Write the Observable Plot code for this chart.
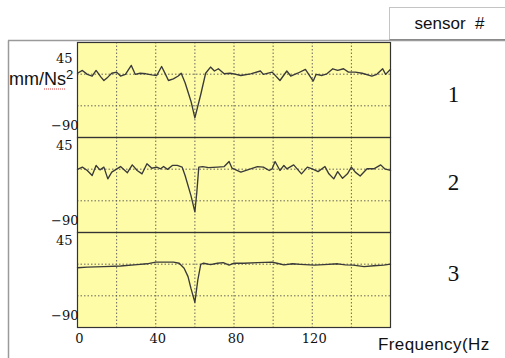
<!DOCTYPE html>
<html><head><meta charset="utf-8">
<script src="https://cdn.jsdelivr.net/npm/d3@7"></script>
<script src="https://cdn.jsdelivr.net/npm/@observablehq/plot@0.6"></script>
<style>
html,body{margin:0;padding:0;background:#fff;}
#chart{position:relative;width:505px;height:358px;overflow:hidden;}
</style></head><body><div id="chart"></div>
<script>
// ---- data ----
const sensors = [1, 2, 3];
const xTicks = [0, 40, 80, 120];
const yTicks = [45, -90];
const xGrid = [20, 40, 60, 80, 100, 120, 140];
const yGrid = [3.3, -53.3];

const freq1 = [0,2.5,5,7.5,9.5,12,13.5,15.5,17.5,20,22,24.5,27.5,29.5,32,35,38,40.5,43,45,46.5,49,51.5,53,55,58,60,63,65.5,68,70,72,75,78,80,83.5,88.5,93.5,95,99.5,103.5,107,109,112.5,116.5,120.5,122,125,127.5,130.5,133,136,138.5,142,145.5,150.5,153,156,157.5,160];
const mag1  = [5,10,3,0,10,-2,-8,-2,5,7,0,3,19,3,5,4,2,1,17,3,-8,-5,0,5,-12,-45,-75,-33,5,16,9,13,4,5,4,1,4,9,3,7,-8,9,0,5,12,-9,3,1,4,13,10,13,7,7,5,0,3,13,3,12];

const freq2 = [0,2.5,5,7.5,9.5,11.5,13.5,15.5,17.5,22,25.5,28,30.5,33,35.5,38,40.5,42.5,44,46,48.5,51,53.5,55,58,60,61,62,64,67,71.5,75,77.5,79,83.5,88.5,92,95,98,99.5,101,103.5,105.5,107,110.5,114.5,117.5,120,123,126.5,128.5,131,133,135.5,138,140,142,144.5,148,151.5,155,157,160];
const mag2  = [3,7,1,-8,10,2,7,-14,-2,8,-3,11,1,-5,13,5,7,4,8,3,10,10,7,-8,-44,-73,-38,7,8,6,7,8,17,5,-2,4,8,7,1,4,17,1,10,4,11,-5,7,4,-1,8,-5,-14,-1,-13,-5,7,-2,-9,4,4,11,4,1];

const freq3 = [0,5,13.5,22,30.5,35.5,40,44,49,52,54.5,56.5,58,60,61.5,63,64.5,68,71.5,74.5,77.5,80,85,92,99.5,102,105.5,110,114,121,126,133,137,141,146.5,151.5,156.5,160];
const mag3  = [-3,-2,-1,0,2.5,4,7,7,7,5,-4,-19,-40,-65,-25,3,5,2.5,5,6,1.5,5,5,6,7,5,2,4,3,1.5,2.5,4,2,1.5,-1,0.5,1.5,3.5];

// ---- tables built from the arrays ----
const rows = [
  ...freq1.map((f, i) => ({sensor: 1, freq: f, mag: mag1[i]})),
  ...freq2.map((f, i) => ({sensor: 2, freq: f, mag: mag2[i]})),
  ...freq3.map((f, i) => ({sensor: 3, freq: f, mag: mag3[i]}))
];
const tickRows = sensors.flatMap(s => yTicks.map(t => ({sensor: s, tick: t})));
const fmt = v => v < 0 ? "\u2212" + Math.abs(v) : String(v);
const sensorLabel = (s, dy) => Plot.text(sensors.filter(d => d === s),
  {fy: d => d, text: d => String(d), frameAnchor: "right", textAnchor: "middle", dx: 63, dy,
   fontSize: 23, fontFamily: "Liberation Serif", fill: "#111"});

const plot = Plot.plot({
  width: 505, height: 358,
  marginTop: 41, marginBottom: 30, marginLeft: 77, marginRight: 115,
  style: {fontFamily: "DejaVu Serif", fontSize: "13px", color: "#111", background: "transparent"},
  x: {domain: [0, 160]},
  y: {domain: [-110, 60], axis: null},
  fy: {domain: sensors, padding: 0, axis: null},
  marks: [
    Plot.frame({fill: "#FFFCA8"}),
    Plot.gridX(xGrid, {stroke: "#555", strokeOpacity: 0.9, strokeDasharray: "1.5,2"}),
    Plot.gridY(yGrid, {stroke: "#555", strokeOpacity: 0.9, strokeDasharray: "1.5,2"}),
    Plot.line(rows, {x: "freq", y: "mag", fy: "sensor", stroke: "#3a3a3a", strokeWidth: 1.35}),
    Plot.frame({stroke: "#333", strokeWidth: 1.2}),
    Plot.axisX(xTicks, {tickSize: 0, tickPadding: 6, label: null, dx: 2, fill: "#111"}),
    Plot.text(tickRows.filter(d => d.tick === 45 && d.sensor !== 1),
      {fy: "sensor", y: "tick", text: d => fmt(d.tick), frameAnchor: "left", textAnchor: "end", dx: -5, fill: "#111"}),
    Plot.text(tickRows.filter(d => d.tick === 45 && d.sensor === 1),
      {fy: "sensor", y: "tick", text: d => fmt(d.tick), frameAnchor: "left", textAnchor: "end", dx: -5, dy: 8, fill: "#111"}),
    Plot.text(tickRows.filter(d => d.tick === -90),
      {fy: "sensor", y: "tick", text: d => fmt(d.tick), frameAnchor: "left", textAnchor: "end", dx: 1, fill: "#111"}),
    sensorLabel(1, 5),
    sensorLabel(2, -2),
    sensorLabel(3, -6)
  ]
});

document.getElementById("chart").appendChild(plot);

// ---- surrounding decorations (frame, header box, titles) ----
const svg = d3.select(plot);
const deco = svg.insert("g", ":first-child");
deco.append("line").attr("x1", 8.5).attr("x2", 8.5).attr("y1", 40.5).attr("y2", 360)
  .attr("stroke", "#9a9a9a").attr("stroke-width", 1.5);
deco.append("line").attr("x1", 8).attr("x2", 505).attr("y1", 40.5).attr("y2", 40.5)
  .attr("stroke", "#9a9a9a").attr("stroke-width", 1.5);
svg.append("rect").attr("x", 389.5).attr("y", 7.5).attr("width", 120).attr("height", 32)
  .attr("fill", "#fff").attr("stroke", "#c4c4c4");
svg.append("line").attr("x1", 389.5).attr("x2", 505).attr("y1", 39.5).attr("y2", 39.5)
  .attr("stroke", "#8a8a8a");
svg.append("text").attr("x", 449.5).attr("y", 29).attr("text-anchor", "middle")
  .attr("font-family", "Liberation Sans, Arial, sans-serif").attr("font-size", 17)
  .attr("fill", "#111").style("white-space", "pre").text("sensor  #");
const yl = svg.append("text").attr("x", 9).attr("y", 85).attr("text-anchor", "start")
  .attr("font-family", "Liberation Sans, Arial, sans-serif").attr("font-size", 18).attr("fill", "#111");
yl.append("tspan").text("mm/Ns");
yl.append("tspan").attr("font-size", 13).attr("dy", -6).text("2");
svg.append("line").attr("x1", 44).attr("x2", 66).attr("y1", 89).attr("y2", 89)
  .attr("stroke", "#e04040").attr("stroke-width", 1).attr("stroke-dasharray", "1,1");
svg.append("text").attr("x", 378).attr("y", 349.5).attr("text-anchor", "start")
  .attr("font-family", "Liberation Sans, Arial, sans-serif").attr("font-size", 17)
  .attr("letter-spacing", 0.4).attr("fill", "#111").text("Frequency(Hz");
</script></body></html>
